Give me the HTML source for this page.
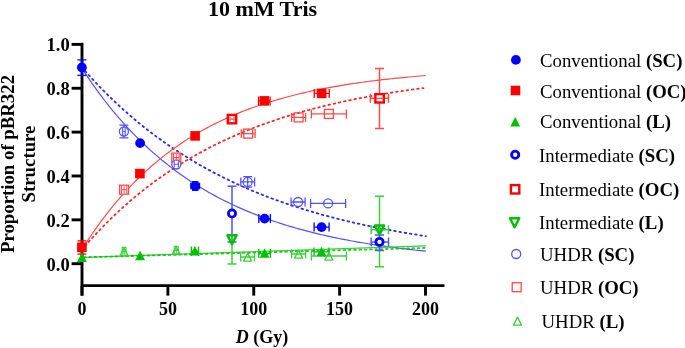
<!DOCTYPE html>
<html><head><meta charset="utf-8"><style>
html,body{margin:0;padding:0;background:#fff;width:685px;height:348px;overflow:hidden;}
svg{display:block;will-change:transform;font-family:"Liberation Serif",serif;}
</style></head><body>
<svg width="685" height="348" viewBox="0 0 685 348">
<text x="262.5" y="15.8" text-anchor="middle" font-family="Liberation Serif" font-weight="bold" font-size="22">10 mM Tris</text>
<g transform="translate(13.9,164) rotate(-90)"><text x="0" y="0" text-anchor="middle" font-family="Liberation Serif" font-weight="bold" font-size="18.8">Proportion of pBR322</text></g>
<g transform="translate(35.4,164) rotate(-90)"><text x="0" y="0" text-anchor="middle" font-family="Liberation Serif" font-weight="bold" font-size="18.8">Structure</text></g>
<path d="M82.00,42.8 V295.6" stroke="#000" stroke-width="2.9" fill="none"/>
<path d="M71.6,263.70 H82.00" stroke="#000" stroke-width="2.9" fill="none"/>
<text x="69.7" y="270.60" text-anchor="end" font-family="Liberation Serif" font-weight="bold" font-size="18.5">0.0</text>
<path d="M71.6,219.84 H82.00" stroke="#000" stroke-width="2.9" fill="none"/>
<text x="69.7" y="226.74" text-anchor="end" font-family="Liberation Serif" font-weight="bold" font-size="18.5">0.2</text>
<path d="M71.6,175.98 H82.00" stroke="#000" stroke-width="2.9" fill="none"/>
<text x="69.7" y="182.88" text-anchor="end" font-family="Liberation Serif" font-weight="bold" font-size="18.5">0.4</text>
<path d="M71.6,132.12 H82.00" stroke="#000" stroke-width="2.9" fill="none"/>
<text x="69.7" y="139.02" text-anchor="end" font-family="Liberation Serif" font-weight="bold" font-size="18.5">0.6</text>
<path d="M71.6,88.26 H82.00" stroke="#000" stroke-width="2.9" fill="none"/>
<text x="69.7" y="95.16" text-anchor="end" font-family="Liberation Serif" font-weight="bold" font-size="18.5">0.8</text>
<path d="M71.6,44.40 H82.00" stroke="#000" stroke-width="2.9" fill="none"/>
<text x="69.7" y="51.30" text-anchor="end" font-family="Liberation Serif" font-weight="bold" font-size="18.5">1.0</text>
<path d="M82.00,285.6 H444.5" stroke="#000" stroke-width="2.9" fill="none"/>
<path d="M82.00,285.6 V295.6" stroke="#000" stroke-width="2.9" fill="none"/>
<text x="82.00" y="315.3" text-anchor="middle" font-family="Liberation Serif" font-weight="bold" font-size="18">0</text>
<path d="M167.88,285.6 V295.6" stroke="#000" stroke-width="2.9" fill="none"/>
<text x="167.88" y="315.3" text-anchor="middle" font-family="Liberation Serif" font-weight="bold" font-size="18">50</text>
<path d="M253.75,285.6 V295.6" stroke="#000" stroke-width="2.9" fill="none"/>
<text x="253.75" y="315.3" text-anchor="middle" font-family="Liberation Serif" font-weight="bold" font-size="18">100</text>
<path d="M339.62,285.6 V295.6" stroke="#000" stroke-width="2.9" fill="none"/>
<text x="339.62" y="315.3" text-anchor="middle" font-family="Liberation Serif" font-weight="bold" font-size="18">150</text>
<path d="M425.50,285.6 V295.6" stroke="#000" stroke-width="2.9" fill="none"/>
<text x="425.50" y="315.3" text-anchor="middle" font-family="Liberation Serif" font-weight="bold" font-size="18">200</text>
<text x="262" y="343" text-anchor="middle" font-family="Liberation Serif" font-weight="bold" font-size="18"><tspan font-style="italic">D</tspan> (Gy)</text>
<path d="M81.70,67.92 L84.59,72.36 L87.48,76.70 L90.38,80.94 L93.27,85.08 L96.16,89.13 L99.05,93.09 L101.95,96.96 L104.84,100.74 L107.73,104.44 L110.62,108.05 L113.52,111.58 L116.41,115.03 L119.30,118.41 L122.19,121.70 L125.09,124.93 L127.98,128.07 L130.87,131.15 L133.76,134.16 L136.66,137.10 L139.55,139.97 L142.44,142.78 L145.33,145.53 L148.23,148.21 L151.12,150.83 L154.01,153.39 L156.90,155.90 L159.80,158.35 L162.69,160.74 L165.58,163.08 L168.47,165.36 L171.37,167.60 L174.26,169.78 L177.15,171.91 L180.04,174.00 L182.94,176.04 L185.83,178.03 L188.72,179.98 L191.61,181.88 L194.51,183.74 L197.40,185.56 L200.29,187.34 L203.18,189.07 L206.07,190.77 L208.97,192.43 L211.86,194.05 L214.75,195.64 L217.64,197.19 L220.54,198.70 L223.43,200.18 L226.32,201.62 L229.21,203.04 L232.11,204.42 L235.00,205.77 L237.89,207.09 L240.78,208.38 L243.68,209.64 L246.57,210.87 L249.46,212.08 L252.35,213.25 L255.25,214.40 L258.14,215.53 L261.03,216.63 L263.92,217.70 L266.82,218.75 L269.71,219.78 L272.60,220.78 L275.49,221.76 L278.39,222.72 L281.28,223.65 L284.17,224.57 L287.06,225.46 L289.96,226.34 L292.85,227.19 L295.74,228.02 L298.63,228.84 L301.53,229.64 L304.42,230.42 L307.31,231.18 L310.20,231.92 L313.09,232.65 L315.99,233.36 L318.88,234.06 L321.77,234.74 L324.66,235.40 L327.56,236.05 L330.45,236.69 L333.34,237.31 L336.23,237.91 L339.13,238.50 L342.02,239.08 L344.91,239.65 L347.80,240.20 L350.70,240.74 L353.59,241.27 L356.48,241.79 L359.37,242.29 L362.27,242.78 L365.16,243.27 L368.05,243.74 L370.94,244.20 L373.84,244.65 L376.73,245.09 L379.62,245.52 L382.51,245.94 L385.41,246.35 L388.30,246.75 L391.19,247.14 L394.08,247.53 L396.98,247.90 L399.87,248.27 L402.76,248.62 L405.65,248.97 L408.55,249.32 L411.44,249.65 L414.33,249.98 L417.22,250.30 L420.12,250.61 L423.01,250.91 L425.90,251.21" fill="none" stroke="#5252ff" stroke-width="1.2"/>
<path d="M81.70,67.08 L84.59,70.38 L87.48,73.63 L90.38,76.82 L93.27,79.96 L96.16,83.04 L99.05,86.08 L101.95,89.06 L104.84,91.99 L107.73,94.86 L110.62,97.70 L113.52,100.48 L116.41,103.21 L119.30,105.90 L122.19,108.55 L125.09,111.14 L127.98,113.70 L130.87,116.21 L133.76,118.68 L136.66,121.10 L139.55,123.49 L142.44,125.83 L145.33,128.14 L148.23,130.40 L151.12,132.63 L154.01,134.82 L156.90,136.97 L159.80,139.08 L162.69,141.16 L165.58,143.21 L168.47,145.21 L171.37,147.19 L174.26,149.13 L177.15,151.04 L180.04,152.92 L182.94,154.76 L185.83,156.57 L188.72,158.35 L191.61,160.11 L194.51,161.83 L197.40,163.52 L200.29,165.18 L203.18,166.82 L206.07,168.43 L208.97,170.01 L211.86,171.56 L214.75,173.09 L217.64,174.59 L220.54,176.06 L223.43,177.51 L226.32,178.94 L229.21,180.34 L232.11,181.72 L235.00,183.07 L237.89,184.41 L240.78,185.71 L243.68,187.00 L246.57,188.27 L249.46,189.51 L252.35,190.73 L255.25,191.93 L258.14,193.11 L261.03,194.27 L263.92,195.41 L266.82,196.54 L269.71,197.64 L272.60,198.72 L275.49,199.79 L278.39,200.84 L281.28,201.86 L284.17,202.88 L287.06,203.87 L289.96,204.85 L292.85,205.81 L295.74,206.76 L298.63,207.68 L301.53,208.60 L304.42,209.50 L307.31,210.38 L310.20,211.24 L313.09,212.10 L315.99,212.94 L318.88,213.76 L321.77,214.57 L324.66,215.37 L327.56,216.15 L330.45,216.92 L333.34,217.67 L336.23,218.42 L339.13,219.15 L342.02,219.87 L344.91,220.57 L347.80,221.27 L350.70,221.95 L353.59,222.62 L356.48,223.28 L359.37,223.93 L362.27,224.56 L365.16,225.19 L368.05,225.80 L370.94,226.41 L373.84,227.00 L376.73,227.59 L379.62,228.16 L382.51,228.73 L385.41,229.28 L388.30,229.83 L391.19,230.37 L394.08,230.89 L396.98,231.41 L399.87,231.92 L402.76,232.42 L405.65,232.92 L408.55,233.40 L411.44,233.88 L414.33,234.34 L417.22,234.80 L420.12,235.26 L423.01,235.70 L425.90,236.14" fill="none" stroke="#0000ff" stroke-width="1.8" stroke-dasharray="1.6 3.7" stroke-linecap="round" opacity="0.85"/>
<path d="M81.70,249.90 L84.59,245.33 L87.48,240.86 L90.38,236.51 L93.27,232.27 L96.16,228.14 L99.05,224.11 L101.95,220.17 L104.84,216.34 L107.73,212.60 L110.62,208.96 L113.52,205.40 L116.41,201.94 L119.30,198.56 L122.19,195.27 L125.09,192.05 L127.98,188.92 L130.87,185.87 L133.76,182.89 L136.66,179.98 L139.55,177.15 L142.44,174.39 L145.33,171.70 L148.23,169.08 L151.12,166.52 L154.01,164.02 L156.90,161.59 L159.80,159.21 L162.69,156.90 L165.58,154.64 L168.47,152.45 L171.37,150.30 L174.26,148.21 L177.15,146.17 L180.04,144.18 L182.94,142.24 L185.83,140.35 L188.72,138.51 L191.61,136.71 L194.51,134.96 L197.40,133.25 L200.29,131.58 L203.18,129.96 L206.07,128.38 L208.97,126.83 L211.86,125.33 L214.75,123.86 L217.64,122.42 L220.54,121.03 L223.43,119.67 L226.32,118.34 L229.21,117.05 L232.11,115.78 L235.00,114.55 L237.89,113.35 L240.78,112.18 L243.68,111.04 L246.57,109.93 L249.46,108.84 L252.35,107.79 L255.25,106.76 L258.14,105.75 L261.03,104.77 L263.92,103.81 L266.82,102.88 L269.71,101.97 L272.60,101.09 L275.49,100.22 L278.39,99.38 L281.28,98.56 L284.17,97.76 L287.06,96.98 L289.96,96.21 L292.85,95.47 L295.74,94.75 L298.63,94.04 L301.53,93.35 L304.42,92.68 L307.31,92.03 L310.20,91.39 L313.09,90.77 L315.99,90.16 L318.88,89.57 L321.77,88.99 L324.66,88.43 L327.56,87.88 L330.45,87.35 L333.34,86.82 L336.23,86.31 L339.13,85.82 L342.02,85.34 L344.91,84.86 L347.80,84.40 L350.70,83.96 L353.59,83.52 L356.48,83.09 L359.37,82.68 L362.27,82.27 L365.16,81.88 L368.05,81.49 L370.94,81.12 L373.84,80.75 L376.73,80.39 L379.62,80.05 L382.51,79.71 L385.41,79.37 L388.30,79.05 L391.19,78.74 L394.08,78.43 L396.98,78.13 L399.87,77.84 L402.76,77.55 L405.65,77.28 L408.55,77.01 L411.44,76.74 L414.33,76.49 L417.22,76.24 L420.12,75.99 L423.01,75.75 L425.90,75.52" fill="none" stroke="#ff4a4a" stroke-width="1.2"/>
<path d="M81.70,249.95 L84.57,246.60 L87.44,243.32 L90.32,240.09 L93.19,236.92 L96.06,233.81 L98.93,230.76 L101.81,227.77 L104.68,224.83 L107.55,221.94 L110.42,219.11 L113.29,216.33 L116.17,213.60 L119.04,210.92 L121.91,208.29 L124.78,205.71 L127.66,203.18 L130.53,200.69 L133.40,198.25 L136.27,195.86 L139.15,193.50 L142.02,191.20 L144.89,188.93 L147.76,186.71 L150.63,184.52 L153.51,182.38 L156.38,180.28 L159.25,178.21 L162.12,176.18 L165.00,174.19 L167.87,172.24 L170.74,170.32 L173.61,168.44 L176.48,166.60 L179.36,164.78 L182.23,163.00 L185.10,161.26 L187.97,159.54 L190.85,157.86 L193.72,156.21 L196.59,154.59 L199.46,152.99 L202.34,151.43 L205.21,149.90 L208.08,148.39 L210.95,146.91 L213.82,145.46 L216.70,144.04 L219.57,142.64 L222.44,141.27 L225.31,139.92 L228.19,138.60 L231.06,137.31 L233.93,136.03 L236.80,134.78 L239.67,133.55 L242.55,132.35 L245.42,131.17 L248.29,130.01 L251.16,128.87 L254.04,127.75 L256.91,126.65 L259.78,125.58 L262.65,124.52 L265.53,123.48 L268.40,122.46 L271.27,121.46 L274.14,120.48 L277.01,119.52 L279.89,118.57 L282.76,117.64 L285.63,116.73 L288.50,115.84 L291.38,114.96 L294.25,114.10 L297.12,113.25 L299.99,112.42 L302.86,111.60 L305.74,110.80 L308.61,110.02 L311.48,109.25 L314.35,108.49 L317.23,107.75 L320.10,107.02 L322.97,106.30 L325.84,105.60 L328.72,104.91 L331.59,104.23 L334.46,103.57 L337.33,102.92 L340.20,102.28 L343.08,101.65 L345.95,101.03 L348.82,100.43 L351.69,99.83 L354.57,99.25 L357.44,98.68 L360.31,98.11 L363.18,97.56 L366.05,97.02 L368.93,96.49 L371.80,95.97 L374.67,95.46 L377.54,94.95 L380.42,94.46 L383.29,93.98 L386.16,93.50 L389.03,93.03 L391.91,92.58 L394.78,92.13 L397.65,91.68 L400.52,91.25 L403.39,90.83 L406.27,90.41 L409.14,90.00 L412.01,89.60 L414.88,89.20 L417.76,88.81 L420.63,88.43 L423.50,88.06" fill="none" stroke="#ff0000" stroke-width="1.8" stroke-dasharray="1.6 3.7" stroke-linecap="round" opacity="0.85"/>
<path d="M84,257.3 L425.9,245.9" fill="none" stroke="#3ccf3c" stroke-width="1.2"/>
<path d="M84,257.3 L425.9,247.9" fill="none" stroke="#00c000" stroke-width="1.8" stroke-dasharray="1.6 3.7" stroke-linecap="round" opacity="0.85"/>
<path d="M81.90,59.90 V75.30 M77.40,59.90 H86.40 M77.40,75.30 H86.40" stroke="#0000ff" stroke-width="1.3" fill="none"/>
<path d="M81.90,240.90 V254.10 M77.40,240.90 H86.40 M77.40,254.10 H86.40" stroke="#ff0000" stroke-width="1.3" fill="none"/>
<path d="M191.30,251.20 H198.50 M191.30,246.60 V255.80 M198.50,246.60 V255.80" stroke="#00c000" stroke-width="1.3" fill="none"/>
<path d="M195.20,181.60 V190.40 M192.00,181.60 H198.40 M192.00,190.40 H198.40" stroke="#0000ff" stroke-width="1.2" fill="none"/>
<path d="M190.80,186.00 H199.60 M190.80,182.80 V189.20 M199.60,182.80 V189.20" stroke="#0000ff" stroke-width="1.2" fill="none"/>
<path d="M258.80,218.60 H270.40 M258.80,214.10 V223.10 M270.40,214.10 V223.10" stroke="#0000ff" stroke-width="1.3" fill="none"/>
<path d="M314.10,227.10 H329.10 M314.10,222.60 V231.60 M329.10,222.60 V231.60" stroke="#0000ff" stroke-width="1.3" fill="none"/>
<path d="M258.50,100.90 H270.10 M258.50,96.40 V105.40 M270.10,96.40 V105.40" stroke="#ff0000" stroke-width="1.3" fill="none"/>
<path d="M314.20,93.40 H329.20 M314.20,88.90 V97.90 M329.20,88.90 V97.90" stroke="#ff0000" stroke-width="1.3" fill="none"/>
<path d="M258.80,253.50 H270.40 M258.80,249.00 V258.00 M270.40,249.00 V258.00" stroke="#00c000" stroke-width="1.3" fill="none"/>
<path d="M314.00,251.90 H329.00 M314.00,247.40 V256.40 M329.00,247.40 V256.40" stroke="#00c000" stroke-width="1.3" fill="none"/>
<path d="M123.90,125.10 V137.90 M119.40,125.10 H128.40 M119.40,137.90 H128.40" stroke="#5252ff" stroke-width="1.3" fill="none"/>
<path d="M176.40,160.40 V168.60 M173.40,160.40 H179.40 M173.40,168.60 H179.40" stroke="#5252ff" stroke-width="1.1" fill="none"/>
<path d="M122.10,251.60 H126.10 M122.10,247.60 V255.60 M126.10,247.60 V255.60" stroke="#3ccf3c" stroke-width="1.1" fill="none"/>
<path d="M124.10,247.40 V255.60 M121.90,247.40 H126.30 M121.90,255.60 H126.30" stroke="#3ccf3c" stroke-width="1.1" fill="none"/>
<path d="M174.20,250.40 H178.20 M174.20,246.40 V254.40 M178.20,246.40 V254.40" stroke="#3ccf3c" stroke-width="1.1" fill="none"/>
<path d="M176.20,246.20 V254.40 M174.00,246.20 H178.40 M174.00,254.40 H178.40" stroke="#3ccf3c" stroke-width="1.1" fill="none"/>
<path d="M240.80,181.90 H254.60 M240.80,177.40 V186.40 M254.60,177.40 V186.40" stroke="#5252ff" stroke-width="1.3" fill="none"/>
<path d="M291.10,202.00 H305.10 M291.10,197.50 V206.50 M305.10,197.50 V206.50" stroke="#5252ff" stroke-width="1.3" fill="none"/>
<path d="M310.60,203.40 H345.60 M310.60,198.90 V207.90 M345.60,198.90 V207.90" stroke="#5252ff" stroke-width="1.3" fill="none"/>
<path d="M241.30,133.60 H255.10 M241.30,129.10 V138.10 M255.10,129.10 V138.10" stroke="#ff4a4a" stroke-width="1.3" fill="none"/>
<path d="M291.60,117.40 H305.60 M291.60,112.90 V121.90 M305.60,112.90 V121.90" stroke="#ff4a4a" stroke-width="1.3" fill="none"/>
<path d="M311.40,113.90 H346.40 M311.40,109.40 V118.40 M346.40,109.40 V118.40" stroke="#ff4a4a" stroke-width="1.3" fill="none"/>
<path d="M240.70,257.00 H254.50 M240.70,252.50 V261.50 M254.50,252.50 V261.50" stroke="#3ccf3c" stroke-width="1.3" fill="none"/>
<path d="M291.60,254.00 H305.60 M291.60,249.50 V258.50 M305.60,249.50 V258.50" stroke="#3ccf3c" stroke-width="1.3" fill="none"/>
<path d="M311.40,256.00 H346.40 M311.40,251.50 V260.50 M346.40,251.50 V260.50" stroke="#3ccf3c" stroke-width="1.3" fill="none"/>
<path d="M247.70,176.70 V187.10 M243.20,176.70 H252.20 M243.20,187.10 H252.20" stroke="#5252ff" stroke-width="1.3" fill="none"/>
<path d="M232.00,186.20 V242.00 M227.50,186.20 H236.50 M227.50,242.00 H236.50" stroke="#5252ff" stroke-width="1.5" fill="none"/>
<path d="M232.00,234.90 V264.10 M227.50,234.90 H236.50 M227.50,264.10 H236.50" stroke="#3ccf3c" stroke-width="1.5" fill="none"/>
<path d="M379.50,68.40 V128.40 M375.00,68.40 H384.00 M375.00,128.40 H384.00" stroke="#ff4a4a" stroke-width="1.5" fill="none"/>
<path d="M379.50,196.30 V266.70 M375.00,196.30 H384.00 M375.00,266.70 H384.00" stroke="#3ccf3c" stroke-width="1.5" fill="none"/>
<path d="M379.50,235.00 V250.40 M375.00,235.00 H384.00 M375.00,250.40 H384.00" stroke="#5252ff" stroke-width="1.5" fill="none"/>
<path d="M371.20,241.90 H388.50 M371.20,237.40 V246.40 M388.50,237.40 V246.40" stroke="#5252ff" stroke-width="1.5" fill="none"/>
<path d="M371.20,229.70 H388.50 M371.20,225.20 V234.20 M388.50,225.20 V234.20" stroke="#3ccf3c" stroke-width="1.5" fill="none"/>
<path d="M370.40,98.20 H388.50 M370.40,93.70 V102.70 M388.50,93.70 V102.70" stroke="#ff4a4a" stroke-width="1.5" fill="none"/>
<rect x="119.60" y="185.20" width="9" height="9" fill="#fff" stroke="#ff4a4a" stroke-width="1.3"/>
<rect x="171.80" y="153.10" width="9" height="9" fill="#fff" stroke="#ff4a4a" stroke-width="1.3"/>
<rect x="243.70" y="129.10" width="9" height="9" fill="none" stroke="#ff4a4a" stroke-width="1.3"/>
<rect x="294.10" y="112.90" width="9" height="9" fill="none" stroke="#ff4a4a" stroke-width="1.3"/>
<rect x="324.40" y="109.40" width="9" height="9" fill="none" stroke="#ff4a4a" stroke-width="1.3"/>
<circle cx="123.90" cy="131.50" r="4.5" fill="#fff" stroke="#5252ff" stroke-width="1.3"/>
<circle cx="176.30" cy="164.30" r="4.5" fill="#fff" stroke="#5252ff" stroke-width="1.3"/>
<circle cx="247.70" cy="181.90" r="4.5" fill="none" stroke="#5252ff" stroke-width="1.3"/>
<circle cx="298.10" cy="202.00" r="4.5" fill="none" stroke="#5252ff" stroke-width="1.3"/>
<circle cx="328.10" cy="203.40" r="4.5" fill="none" stroke="#5252ff" stroke-width="1.3"/>
<path d="M124.10,186.20 V193.20 M124.00,186.20 H124.20 M124.00,193.20 H124.20" stroke="#ff4a4a" stroke-width="1.0" fill="none"/>
<path d="M121.40,189.70 H126.80 M121.40,185.70 V193.70 M126.80,185.70 V193.70" stroke="#ff4a4a" stroke-width="1.1" fill="none"/>
<path d="M176.30,154.20 V161.00 M176.20,154.20 H176.40 M176.20,161.00 H176.40" stroke="#ff4a4a" stroke-width="1.0" fill="none"/>
<path d="M173.50,157.60 H179.10 M173.50,153.80 V161.40 M179.10,153.80 V161.40" stroke="#ff4a4a" stroke-width="1.1" fill="none"/>
<path d="M122.60,131.50 H125.20 M122.60,128.10 V134.90 M125.20,128.10 V134.90" stroke="#5252ff" stroke-width="1.1" fill="none"/>
<path d="M174.20,164.30 H178.40 M174.20,161.30 V167.30 M178.40,161.30 V167.30" stroke="#5252ff" stroke-width="1.1" fill="none"/>
<path d="M124.10,247.70 L128.10,255.70 L120.10,255.70 Z" fill="none" stroke="#3ccf3c" stroke-width="1.3" stroke-linejoin="round"/>
<path d="M176.20,246.50 L180.20,254.50 L172.20,254.50 Z" fill="none" stroke="#3ccf3c" stroke-width="1.3" stroke-linejoin="round"/>
<path d="M247.60,253.10 L251.60,261.10 L243.60,261.10 Z" fill="none" stroke="#3ccf3c" stroke-width="1.3" stroke-linejoin="round"/>
<path d="M298.60,250.10 L302.60,258.10 L294.60,258.10 Z" fill="none" stroke="#3ccf3c" stroke-width="1.3" stroke-linejoin="round"/>
<path d="M328.90,252.10 L332.90,260.10 L324.90,260.10 Z" fill="none" stroke="#3ccf3c" stroke-width="1.3" stroke-linejoin="round"/>
<circle cx="232.00" cy="213.50" r="3.6" fill="#fff" stroke="#0000ff" stroke-width="2.8"/>
<circle cx="379.50" cy="241.90" r="3.6" fill="#fff" stroke="#0000ff" stroke-width="2.8"/>
<rect x="227.80" y="114.90" width="8.4" height="8.4" fill="#fff" stroke="#ff0000" stroke-width="2.4"/>
<rect x="375.40" y="94.10" width="8.4" height="8.4" fill="#fff" stroke="#ff0000" stroke-width="2.4"/>
<path d="M227.40,235.30 L236.60,235.30 L232.00,244.20 Z" fill="none" stroke="#00c000" stroke-width="2.5" stroke-linejoin="round"/>
<path d="M374.90,225.60 L384.10,225.60 L379.50,234.50 Z" fill="none" stroke="#00c000" stroke-width="2.5" stroke-linejoin="round"/>
<path d="M229.90,119.10 H234.10 M229.90,116.50 V121.70 M234.10,116.50 V121.70" stroke="#ff4a4a" stroke-width="1.1" fill="none"/>
<path d="M375.6,98.3 H383.6" stroke="#ff4a4a" stroke-width="1.3"/>
<circle cx="81.90" cy="67.50" r="4.9" fill="#0000ff"/>
<circle cx="140.10" cy="143.10" r="4.9" fill="#0000ff"/>
<circle cx="195.20" cy="186.00" r="4.9" fill="#0000ff"/>
<circle cx="264.60" cy="218.60" r="4.9" fill="#0000ff"/>
<circle cx="321.60" cy="227.10" r="4.9" fill="#0000ff"/>
<rect x="77.10" y="242.50" width="9.6" height="9.6" fill="#ff0000"/>
<rect x="135.10" y="168.80" width="9.6" height="9.6" fill="#ff0000"/>
<rect x="190.30" y="131.10" width="9.6" height="9.6" fill="#ff0000"/>
<rect x="259.50" y="96.10" width="9.6" height="9.6" fill="#ff0000"/>
<rect x="316.90" y="88.60" width="9.6" height="9.6" fill="#ff0000"/>
<path d="M81.90,252.40 L86.80,261.90 L77.00,261.90 Z" fill="#00c000"/>
<path d="M140.10,250.70 L145.00,260.20 L135.20,260.20 Z" fill="#00c000"/>
<path d="M194.90,246.00 L199.80,255.50 L190.00,255.50 Z" fill="#00c000"/>
<path d="M264.60,248.30 L269.50,257.80 L259.70,257.80 Z" fill="#00c000"/>
<path d="M321.50,246.70 L326.40,256.20 L316.60,256.20 Z" fill="#00c000"/>
<circle cx="515.90" cy="59.90" r="4.9" fill="#0000ff"/>
<text x="540.00" y="66.50" font-family="Liberation Serif" font-size="18.8">Conventional <tspan font-weight="bold">(SC)</tspan></text>
<rect x="510.70" y="85.70" width="9.6" height="9.6" fill="#ff0000"/>
<text x="540.00" y="97.80" font-family="Liberation Serif" font-size="18.8">Conventional <tspan font-weight="bold">(OC)</tspan></text>
<path d="M515.20,117.10 L520.10,126.60 L510.30,126.60 Z" fill="#00c000"/>
<text x="540.00" y="128.40" font-family="Liberation Serif" font-size="18.8">Conventional <tspan font-weight="bold">(L)</tspan></text>
<circle cx="515.20" cy="154.70" r="3.6" fill="#fff" stroke="#0000ff" stroke-width="2.8"/>
<text x="539.00" y="161.60" font-family="Liberation Serif" font-size="18.8">Intermediate <tspan font-weight="bold">(SC)</tspan></text>
<rect x="510.90" y="185.10" width="8.4" height="8.4" fill="#fff" stroke="#ff0000" stroke-width="2.4"/>
<text x="539.00" y="196.10" font-family="Liberation Serif" font-size="18.8">Intermediate <tspan font-weight="bold">(OC)</tspan></text>
<path d="M510.00,218.30 L519.20,218.30 L514.60,227.20 Z" fill="none" stroke="#00c000" stroke-width="2.5" stroke-linejoin="round"/>
<text x="539.00" y="229.40" font-family="Liberation Serif" font-size="18.8">Intermediate <tspan font-weight="bold">(L)</tspan></text>
<circle cx="516.20" cy="254.00" r="4.5" fill="none" stroke="#5252ff" stroke-width="1.3"/>
<text x="540.00" y="260.60" font-family="Liberation Serif" font-size="18.8">UHDR <tspan font-weight="bold">(SC)</tspan></text>
<rect x="512.20" y="282.70" width="9" height="9" fill="none" stroke="#ff4a4a" stroke-width="1.3"/>
<text x="540.00" y="294.00" font-family="Liberation Serif" font-size="18.8">UHDR <tspan font-weight="bold">(OC)</tspan></text>
<path d="M517.50,317.10 L521.50,325.10 L513.50,325.10 Z" fill="none" stroke="#3ccf3c" stroke-width="1.3" stroke-linejoin="round"/>
<text x="541.50" y="327.50" font-family="Liberation Serif" font-size="18.8">UHDR <tspan font-weight="bold">(L)</tspan></text>
</svg>
</body></html>
